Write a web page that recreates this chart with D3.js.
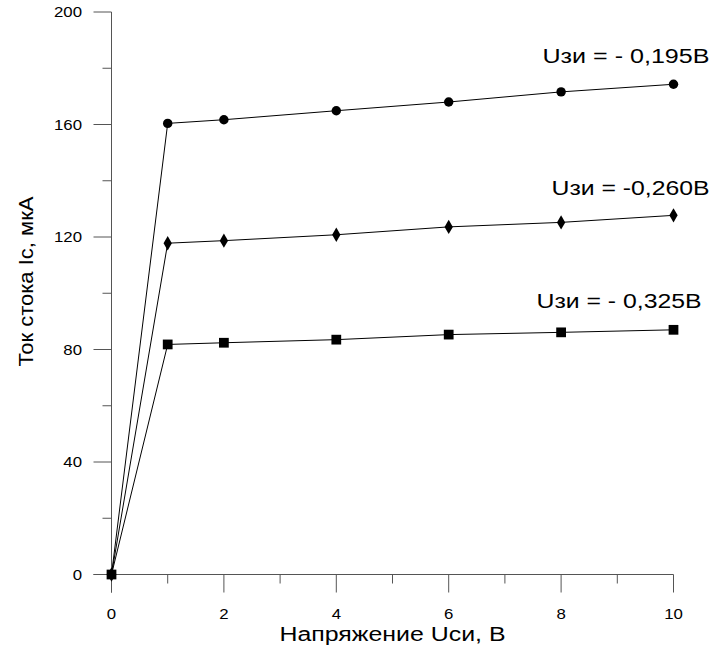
<!DOCTYPE html>
<html>
<head>
<meta charset="utf-8">
<script src="https://cdn.jsdelivr.net/npm/d3@7"></script>
<style>
  body { margin: 0; background: #fff; }
  svg { display: block; font-family: "Liberation Sans", Arial, sans-serif; }
</style>
</head>
<body>
<svg id="chart" width="713" height="651"></svg>
<script>
// Drain voltage Uси, V
const uds = [0, 1, 2, 4, 6, 8, 10];
// Drain current Iс, µA for three gate voltages
const iA = [0, 160.4, 161.7, 164.9, 168.0, 171.6, 174.3]; // Uзи = -0,195 В
const iB = [0, 117.8, 118.7, 120.8, 123.6, 125.2, 127.7]; // Uзи = -0,260 В
const iC = [0, 81.8, 82.4, 83.5, 85.3, 86.1, 87.0];       // Uзи = -0,325 В
const seriesLabels = ["Uзи = - 0,195В", "Uзи = -0,260В", "Uзи = - 0,325В"];
const xTicks = [0, 2, 4, 6, 8, 10];
const yTicks = [0, 40, 80, 120, 160, 200];

const svg = d3.select("#chart");
const x = d3.scaleLinear().domain([0, 10]).range([111.5, 673.5]);
const y = d3.scaleLinear().domain([0, 200]).range([574.5, 12]);
const axisColor = "#555";
const wide = 1.12; // horizontal stretch of the tick label type

// X axis: major ticks at even values, minor at odd values
const gx = svg.append("g").attr("transform", `translate(0,${y(0)})`);
gx.append("line").attr("x1", x(0) - 18).attr("x2", x(10)).attr("stroke", axisColor);
gx.selectAll("line.maj").data(xTicks).join("line")
  .attr("x1", d => x(d)).attr("x2", d => x(d)).attr("y1", 0).attr("y2", 18).attr("stroke", axisColor);
gx.selectAll("line.min").data(d3.range(1, 10, 2)).join("line")
  .attr("x1", d => x(d)).attr("x2", d => x(d)).attr("y1", 0).attr("y2", 9).attr("stroke", axisColor);
gx.selectAll("text").data(xTicks).join("text")
  .attr("transform", d => `translate(${x(d)},44) scale(${wide},1)`)
  .attr("text-anchor", "middle").attr("font-size", 15).text(d => d);

// Y axis: major ticks every 40, minor halfway
const gy = svg.append("g").attr("transform", `translate(${x(0)},0)`);
gy.append("line").attr("y1", y(200)).attr("y2", y(0) + 18).attr("stroke", axisColor);
gy.selectAll("line.maj").data(yTicks).join("line")
  .attr("x1", -18).attr("x2", 0).attr("y1", d => y(d)).attr("y2", d => y(d)).attr("stroke", axisColor);
gy.selectAll("line.min").data(d3.range(20, 200, 40)).join("line")
  .attr("x1", -9).attr("x2", 0).attr("y1", d => y(d)).attr("y2", d => y(d)).attr("stroke", axisColor);
gy.selectAll("text").data(yTicks).join("text")
  .attr("transform", d => `translate(-29.5,${y(d)}) scale(${wide},1)`)
  .attr("dy", "0.36em").attr("text-anchor", "end")
  .attr("font-size", 15).text(d => d);

// Axis titles
svg.append("text").attr("x", 279.5).attr("y", 641)
  .attr("font-size", 20).attr("textLength", 226).attr("lengthAdjust", "spacingAndGlyphs")
  .text("Напряжение Uси, В");
svg.append("text").attr("transform", "translate(32.5,366.5) rotate(-90)")
  .attr("font-size", 20).attr("textLength", 170).attr("lengthAdjust", "spacingAndGlyphs")
  .text("Ток стока Iс, мкА");

// Curves
const line = d3.line().x((d, i) => x(uds[i])).y(d => y(d));
const series = [iA, iB, iC];
const symbols = [d3.symbolCircle, d3.symbolDiamond, d3.symbolSquare];
const sizes = [70, 60, 95];
series.forEach(vals => {
  svg.append("path").datum(vals).attr("d", line)
    .attr("fill", "none").attr("stroke", "#000").attr("stroke-width", 1);
});
series.forEach((vals, k) => {
  svg.append("g").selectAll("path").data(vals).join("path")
    .attr("transform", (d, i) => `translate(${x(uds[i])},${y(d)})`)
    .attr("d", d3.symbol().type(symbols[k]).size(sizes[k]))
    .attr("fill", "#000");
});

// Curve labels at the right end: [left, baseline, width]
const labelPos = [[542.5, 62.5, 167], [551.5, 195, 158], [536.5, 307.5, 165]];
seriesLabels.forEach((t, k) => {
  svg.append("text").attr("x", labelPos[k][0]).attr("y", labelPos[k][1])
    .attr("font-size", 20).attr("textLength", labelPos[k][2]).attr("lengthAdjust", "spacingAndGlyphs")
    .text(t);
});
</script>
</body>
</html>
